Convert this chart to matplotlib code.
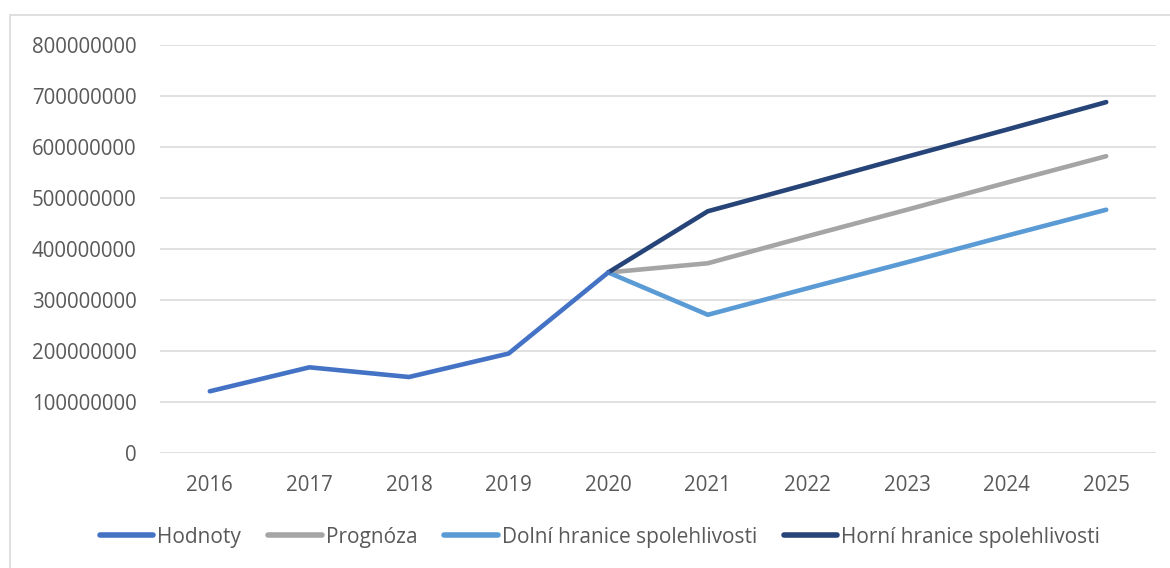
import matplotlib.pyplot as plt
from matplotlib.patches import Rectangle
from matplotlib.ticker import FuncFormatter

# Data (values in millions)
years = ['2016', '2017', '2018', '2019', '2020', '2021', '2022', '2023', '2024', '2025']
hodnoty = [121, 168, 149, 195, 354]
prognoza = [354, 372, 425, 477, 530, 582]
dolni = [354, 271, 323, 374, 426, 477]
horni = [354, 474, 527, 581, 634, 688]

colors = {
    'Hodnoty': '#4472C4',
    'Prognóza': '#A5A5A5',
    'Dolní hranice spolehlivosti': '#5B9BD5',
    'Horní hranice spolehlivosti': '#264478',
}

plt.rcParams['font.family'] = ['Open Sans', 'DejaVu Sans']

fig = plt.figure(figsize=(11.7, 5.68), dpi=100)
ax = fig.add_axes([160 / 1170, 1 - 453 / 568, 996 / 1170, 408 / 568])

x_hist = list(range(len(hodnoty)))
x_fc = list(range(len(hodnoty) - 1, len(years)))
lw = 3.3
ax.plot(x_hist, [v * 1e6 for v in hodnoty], color=colors['Hodnoty'], lw=lw,
        solid_capstyle='round', solid_joinstyle='round', label='Hodnoty', zorder=5)
ax.plot(x_fc, [v * 1e6 for v in prognoza], color=colors['Prognóza'], lw=lw,
        solid_capstyle='round', solid_joinstyle='round', label='Prognóza', zorder=3)
ax.plot(x_fc, [v * 1e6 for v in dolni], color=colors['Dolní hranice spolehlivosti'], lw=lw,
        solid_capstyle='round', solid_joinstyle='round', label='Dolní hranice spolehlivosti', zorder=3)
ax.plot(x_fc, [v * 1e6 for v in horni], color=colors['Horní hranice spolehlivosti'], lw=lw,
        solid_capstyle='round', solid_joinstyle='round', label='Horní hranice spolehlivosti', zorder=4)

ax.set_xlim(-0.5, len(years) - 0.5)
ax.set_ylim(0, 800e6)
ax.set_xticks(range(len(years)))
ax.set_xticklabels(years)
ax.set_yticks([i * 100e6 for i in range(9)])
ax.yaxis.set_major_formatter(FuncFormatter(lambda v, p: f'{int(round(v))}'))
ax.grid(axis='y', color='#D9D9D9', lw=1.1)
ax.set_axisbelow(True)
for s in ax.spines.values():
    s.set_visible(False)
ax.tick_params(axis='both', length=0, labelsize=14.8, colors='#595959')
ax.tick_params(axis='y', pad=17)
ax.tick_params(axis='x', pad=16)

leg = fig.legend(loc='center', bbox_to_anchor=(0.513, 1 - 537 / 568), ncol=4, frameon=False,
                 handlelength=2.55, handletextpad=0.2, columnspacing=1.3,
                 prop={'size': 15})
for t in leg.get_texts():
    t.set_color('#595959')
for h in leg.legend_handles:
    h.set_linewidth(4)
    h.set_solid_capstyle('round')

# outer chart border
fig.patches.append(Rectangle((10 / 1170, -0.1), 1.2, 0.1 + 1 - 15 / 568, transform=fig.transFigure,
                             fill=False, edgecolor='#D9D9D9', lw=1.2))

fig.savefig('out.png', dpi=100)
